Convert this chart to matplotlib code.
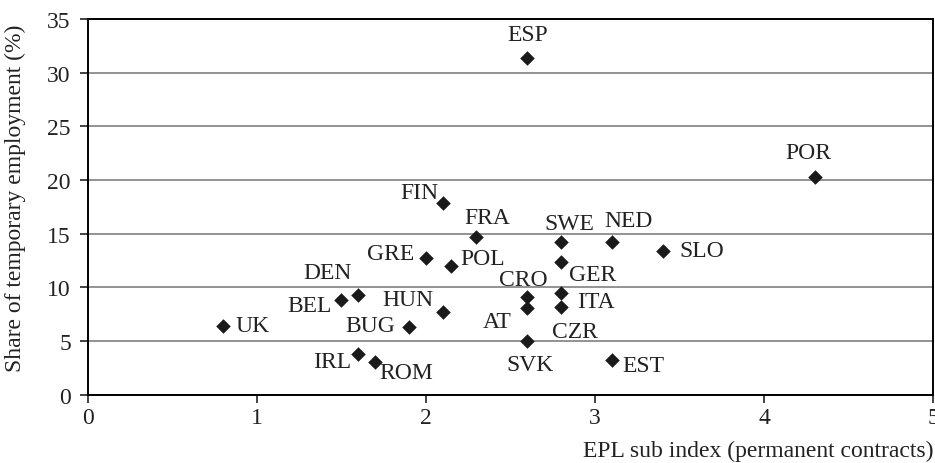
import matplotlib
matplotlib.use("Agg")
import matplotlib.pyplot as plt

# countries and values
countries = ["ESP", "POR", "FIN", "FRA", "GRE", "POL", "DEN", "BEL", "HUN", "UK",
             "BUG", "IRL", "ROM", "AT", "CRO", "SVK", "SWE", "NED", "SLO", "GER",
             "ITA", "CZR", "EST"]
epl = [2.6, 4.3, 2.1, 2.3, 2.0, 2.15, 1.6, 1.5, 2.1, 0.8,
       1.9, 1.6, 1.7, 2.6, 2.6, 2.6, 2.8, 3.1, 3.4, 2.8,
       2.8, 2.8, 3.1]
temp_share = [31.4, 20.3, 17.9, 14.7, 12.7, 12.0, 9.3, 8.8, 7.7, 6.4,
              6.3, 3.8, 3.1, 8.1, 9.1, 5.0, 14.2, 14.2, 13.4, 12.4,
              9.5, 8.2, 3.2]

# label offsets from each point, in pixels (dx right, dy down)
label_offsets = {
    "ESP": (0, -23), "POR": (-6, -24), "FIN": (-23, -10), "FRA": (11, -19),
    "GRE": (-35, -5), "POL": (32, -7), "DEN": (-31, -22), "BEL": (-32, 5),
    "HUN": (-35, -13), "UK": (30, -1), "BUG": (-39, -2), "IRL": (-26, 8),
    "ROM": (31, 11), "AT": (-30, 14), "CRO": (-4, -18), "SVK": (3, 23),
    "SWE": (8, -19), "NED": (17, -22), "SLO": (39, 0), "GER": (32, 13),
    "ITA": (35, 9), "CZR": (14, 25), "EST": (32, 5),
}

plt.rcParams["font.family"] = ["Liberation Serif", "DejaVu Serif"]
plt.rcParams["font.size"] = 17

fig = plt.figure(figsize=(9.35, 4.64), dpi=100)
ax = fig.add_axes([0.0936, 0.147, 0.9044, 0.810])

ax.scatter(epl, temp_share, marker="D", s=55, color="#1a1a1a", zorder=3, linewidths=0)

px = 72 / 100  # pixels -> points
for name, x, y in zip(countries, epl, temp_share):
    dx, dy = label_offsets[name]
    ax.annotate(name, (x, y), xytext=(dx * px, -dy * px), textcoords="offset points",
                ha="center", va="center", color="#222222", fontsize=17)

ax.set_xlim(0, 5)
ax.set_ylim(0, 35)
ax.set_xticks(range(0, 6))
ax.set_yticks(range(0, 36, 5))
ax.yaxis.grid(True, color="#808080", linewidth=1.2)
ax.set_axisbelow(True)
for sp in ax.spines.values():
    sp.set_color("black")
    sp.set_linewidth(1.4)
ax.tick_params(axis="x", direction="out", length=5.5, width=1.2, pad=3.5, colors="#222222")
ax.tick_params(axis="y", direction="out", length=6, width=1.2, pad=6, colors="#222222")

ax.set_xlabel("EPL sub index (permanent contracts)", loc="right", labelpad=8, color="#222222")
ax.set_ylabel("Share of temporary employment (%)", color="#222222")
ax.yaxis.set_label_coords(-0.073, 0.526)

fig.savefig("out.png", dpi=100)
